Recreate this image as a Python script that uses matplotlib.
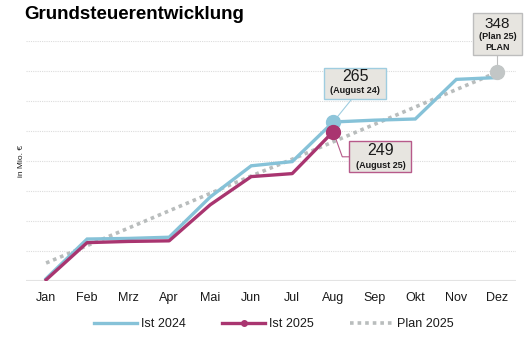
import matplotlib
matplotlib.use("Agg")
import matplotlib.pyplot as plt
from matplotlib.patches import Rectangle
from matplotlib.lines import Line2D

plt.rcParams["font.family"] = ["Liberation Sans", "DejaVu Sans"]

# ── data (Mio. €, cumulative) ──────────────────────────────────────────
months = ["Jan", "Feb", "Mrz", "Apr", "Mai", "Jun",
          "Jul", "Aug", "Sep", "Okt", "Nov", "Dez"]
ist_2024 = [4, 70, 71, 73, 140, 192, 199, 265, 268, 270, 336, 339]
ist_2025 = [2, 64, 66, 67, 127, 174, 179, 249]
plan_2025 = [30, 59, 88, 117, 146, 175, 203, 232, 261, 290, 319, 348]
grid_vals = [50, 100, 150, 200, 250, 300, 350, 400]

BLUE = "#86c2d8"
MAGENTA = "#a93570"
GREY = "#b9bdbd"
BOX = "#e7e5e0"
TXT = "#1a1a1a"

fig = plt.figure(figsize=(5.3, 3.5), dpi=100)
ax = fig.add_axes([0.049, 0.197, 0.925, 0.686])
x = list(range(len(months)))

for g in grid_vals:
    ax.axhline(g, color="#dcdcdc", lw=0.8, ls=(0, (1, 1)), zorder=0)
ax.axhline(0, color="#e3e3e3", lw=1.5, zorder=0)

ax.plot(x, plan_2025, color=GREY, lw=2.6, ls=(0, (1, 1.1)), zorder=2)
ax.plot(x, ist_2024, color=BLUE, lw=2.4, solid_joinstyle="miter", zorder=3)
ax.plot(range(len(ist_2025)), ist_2025, color=MAGENTA, lw=2.4, zorder=4)

# highlighted points
ax.plot(7, ist_2024[7], "o", color="#8ec5da", ms=10, zorder=5, clip_on=False)
ax.plot(7, ist_2025[7], "o", color=MAGENTA, ms=10, zorder=6, clip_on=False)
ax.plot(11, plan_2025[11], "o", color="#c2c6c6", ms=10, zorder=5, clip_on=False)

# ── annotation boxes ───────────────────────────────────────────────────
def box(x0, x1, y0, y1, edge):
    ax.add_patch(Rectangle((x0, y0), x1 - x0, y1 - y0, facecolor=BOX,
                           edgecolor=edge, lw=1.0, zorder=7, clip_on=False))

box(6.78, 8.29, 303, 355, "#9fcde0")
ax.plot([7.45, 7], [303, ist_2024[7]], color="#9fcde0", lw=0.8, zorder=4,
        clip_on=False)
ax.text(7.54, 340, f"{ist_2024[7]}", ha="center", va="center", fontsize=11.5,
        color=TXT, zorder=8)
ax.text(7.54, 318, "(August 24)", ha="center", va="center", fontsize=6.5,
        fontweight="bold", color=TXT, zorder=8)

box(7.39, 8.90, 182, 233, "#b75a8a")
ax.plot([7, 7.22, 7.39], [ist_2025[7], 207, 207], color="#b75a8a", lw=0.8,
        zorder=4, clip_on=False)
ax.text(8.15, 218, f"{ist_2025[7]}", ha="center", va="center", fontsize=11.5,
        color=TXT, zorder=8)
ax.text(8.15, 193, "(August 25)", ha="center", va="center", fontsize=6.5,
        fontweight="bold", color=TXT, zorder=8)

box(10.41, 11.59, 377, 447, "#bdbdbd")
ax.plot([11, 11], [377, plan_2025[11]], color="#bdbdbd", lw=0.8, zorder=4,
        clip_on=False)
ax.text(11, 428, f"{plan_2025[11]}", ha="center", va="center", fontsize=11,
        color=TXT, zorder=8, clip_on=False)
ax.text(11, 407, "(Plan 25)", ha="center", va="center", fontsize=6.5,
        fontweight="bold", color=TXT, zorder=8, clip_on=False)
ax.text(11, 389, "PLAN", ha="center", va="center", fontsize=6.5,
        fontweight="bold", color=TXT, zorder=8, clip_on=False)

# ── axes styling ───────────────────────────────────────────────────────
ax.set_xlim(-0.49, 11.46)
ax.set_ylim(0, 400)
ax.set_xticks(x)
ax.set_xticklabels(months, fontsize=9, color=TXT)
ax.set_yticks([])
ax.tick_params(axis="x", length=0, pad=8)
for s in ax.spines.values():
    s.set_visible(False)
ax.set_ylabel("in Mio. €", fontsize=6, color=TXT, labelpad=1)

fig.text(0.045, 0.958, "Grundsteuerentwicklung", fontsize=13.5,
         fontweight="bold", color="black", va="center")

handles = [
    Line2D([], [], color=BLUE, lw=2.4),
    Line2D([], [], color=MAGENTA, lw=2.4, marker="o", markersize=4,
           markevery=[1]),
    Line2D([], [], color=GREY, lw=2.6, ls=(0, (1, 1.1))),
]
labels = ["Ist 2024", "Ist 2025", "Plan 2025"]
leg = fig.legend(handles, labels, loc="center",
                 bbox_to_anchor=(0.517, 0.074), ncol=3,
                 frameon=False, fontsize=9, handlelength=3.4,
                 handletextpad=0.35, columnspacing=2.9)
for t in leg.get_texts():
    t.set_color(TXT)

fig.savefig("out.png", dpi=100)
